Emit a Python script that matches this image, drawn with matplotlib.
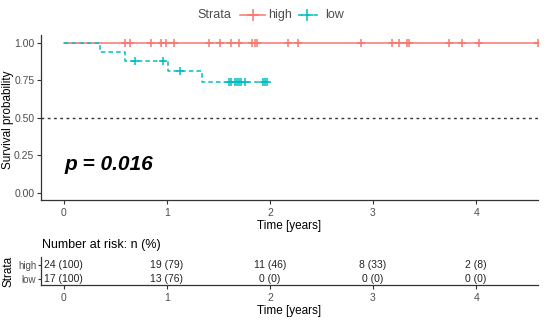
import numpy as np
import matplotlib
matplotlib.use("Agg")
import matplotlib.pyplot as plt
from matplotlib.lines import Line2D

plt.rcParams['font.family'] = ['Liberation Sans', 'DejaVu Sans']

# ---- data (years) ----
high_times = [0.59, 0.64, 0.85, 0.94, 0.99, 1.07, 1.41, 1.52, 1.62, 1.70, 1.83, 1.86, 1.87,
              2.18, 2.27, 2.88, 3.18, 3.25, 3.33, 3.35, 3.74, 3.86, 4.03, 4.60]
high_events = [0] * 24
low_times = [0.35, 0.59, 0.69, 0.96, 1.01, 1.13, 1.34, 1.60, 1.62, 1.66, 1.68, 1.70, 1.72,
             1.76, 1.93, 1.95, 1.97]
low_events = [1, 1, 0, 0, 1, 0, 1, 0, 0, 0, 0, 0, 0, 0, 0, 0, 0]

risk_times = [0, 1, 2, 3, 4]
risk_high = ["24 (100)", "19 (79)", "11 (46)", "8 (33)", "2 (8)"]
risk_low = ["17 (100)", "13 (76)", "0 (0)", "0 (0)", "0 (0)"]
p_text = "p = 0.016"

RED = "#F8766D"
CYAN = "#00BFC4"
GRAY = "#4D4D4D"


def km(times, events):
    t = np.array(times, float)
    e = np.array(events, int)
    order = np.argsort(t, kind="stable")
    t, e = t[order], e[order]
    xs, ys = [0.0], [1.0]
    s = 1.0
    n = len(t)
    cens_x, cens_y = [], []
    for ut in np.unique(t):
        mask = t == ut
        d = e[mask].sum()
        c = (mask.sum() - d)
        if d > 0:
            xs.append(ut); ys.append(s)
            s = s * (1 - d / n)
            xs.append(ut); ys.append(s)
        if c > 0:
            cens_x.append(ut); cens_y.append(s)
        n -= mask.sum()
    xs.append(t.max()); ys.append(s)
    return xs, ys, cens_x, cens_y


W, H = 550, 321
fig = plt.figure(figsize=(W / 100, H / 100), dpi=100)


def box(l, t, r, b):
    return [l / W, 1 - b / H, (r - l) / W, (b - t) / H]


def fx(px):
    return px / W


def fy(py):
    return 1 - py / H


ax = fig.add_axes(box(41, 35, 538, 200))
xlim = (-0.22, 4.6)

hx, hy, hcx, hcy = km(high_times, high_events)
lx, ly, lcx, lcy = km(low_times, low_events)
ax.axhline(0.5, color="#333333", ls=(0, (2, 2.5)), lw=1.0, zorder=1)
ax.plot(hx, hy, color=RED, lw=1.1, zorder=3)
ax.plot(hcx, hcy, ls="none", marker="+", ms=6, mew=1.1, color=RED, zorder=3)
ax.plot(lx, ly, color=CYAN, lw=1.1, ls=(0, (3, 2)), zorder=3)
ax.plot(lcx, lcy, ls="none", marker="+", ms=6, mew=1.1, color=CYAN, zorder=3)

ax.set_xlim(xlim)
ax.set_ylim(-0.047, 1.053)
ax.set_yticks([0, 0.25, 0.5, 0.75, 1.0])
ax.set_yticklabels(["0.00", "0.25", "0.50", "0.75", "1.00"])
ax.set_xticks([0, 1, 2, 3, 4])
for s in ["top", "right"]:
    ax.spines[s].set_visible(False)
for s in ["left", "bottom"]:
    ax.spines[s].set_color("#333333")
    ax.spines[s].set_linewidth(0.9)
ax.tick_params(labelsize=7.5, colors=GRAY, length=3, width=0.8, pad=1.8)
ax.tick_params(axis="x", pad=3)
ax.tick_params(axis="both", color="#333333")
ax.set_xlabel("Time [years]", fontsize=8.5, color="black", labelpad=1)
fig.text(fx(8.5), fy(120), "Survival probability", rotation=90, fontsize=8.5,
         color="black", ha="center", va="center")
ax.text(0.01, 0.187, p_text, fontsize=15, fontweight="bold", fontstyle="italic",
        transform=ax.transData, color="black", va="center")

# legend (inline, built by hand in figure coordinates)
ly0 = fy(15)
fig.text(fx(197), ly0, "Strata", fontsize=9, color=GRAY, va="center", ha="left")
fig.add_artist(Line2D([fx(240), fx(265)], [ly0, ly0], color=RED, lw=1.1,
                      transform=fig.transFigure))
fig.add_artist(Line2D([fx(252.5)], [ly0], color=RED, marker="+", ms=8, mew=1.1,
                      transform=fig.transFigure))
fig.text(fx(268), ly0, "high", fontsize=9, color=GRAY, va="center", ha="left")
fig.add_artist(Line2D([fx(298), fx(318)], [ly0, ly0], color=CYAN, lw=1.1,
                      ls=(0, (3, 2)), transform=fig.transFigure))
fig.add_artist(Line2D([fx(307)], [ly0], color=CYAN, marker="+", ms=8, mew=1.1,
                      transform=fig.transFigure))
fig.text(fx(325), ly0, "low", fontsize=9, color=GRAY, va="center", ha="left")

# risk table
rax = fig.add_axes(box(41, 257, 538, 285))
rax.set_xlim(xlim)
rax.set_ylim(-0.43, 1.57)
for xt, h, l in zip(risk_times, risk_high, risk_low):
    rax.text(xt, 1, h, ha="center", va="center", fontsize=7.5, color="#222222")
    rax.text(xt, 0, l, ha="center", va="center", fontsize=7.5, color="#222222")
rax.set_yticks([0, 1])
rax.set_yticklabels(["low", "high"])
for lab, c in zip(rax.get_yticklabels(), [CYAN, RED]):
    lab.set_color(c)
rax.set_xticks(risk_times)
for s in ["top", "right"]:
    rax.spines[s].set_visible(False)
for s in ["left", "bottom"]:
    rax.spines[s].set_color("#333333")
    rax.spines[s].set_linewidth(0.9)
rax.tick_params(labelsize=7.5, colors=GRAY, length=3, width=0.8, pad=3)
rax.tick_params(axis="y", labelsize=7, pad=1.5, length=2)
rax.tick_params(axis="both", color="#333333")
rax.set_xlabel("Time [years]", fontsize=8.5, color="black", labelpad=1)
fig.text(fx(8), fy(271), "Strata", rotation=90, fontsize=8.5,
         color="black", ha="center", va="center")
fig.text(fx(42), fy(245), "Number at risk: n (%)", fontsize=9, color="black",
         va="center", ha="left")

fig.savefig("out.png", dpi=100)
